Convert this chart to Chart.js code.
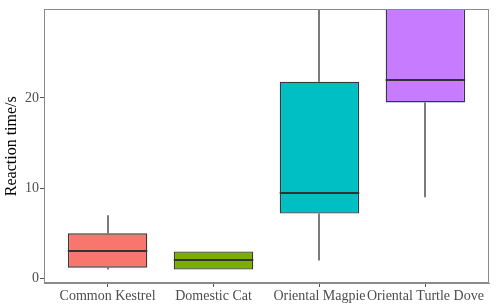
<!DOCTYPE html>
<html>
<head>
<meta charset="utf-8">
<script src="https://cdn.jsdelivr.net/npm/chart.js@4/dist/chart.umd.min.js"></script>
<style>
  html, body { margin: 0; padding: 0; background: #fff; }
  #wrap { width: 500px; height: 305px; }
</style>
</head>
<body>
<div id="wrap"><canvas id="myChart" width="500" height="305"></canvas></div>
<script>
var categories = ['Common Kestrel', 'Domestic Cat', 'Oriental Magpie', 'Oriental Turtle Dove'];
var mins    = [1.0, 1.0, 2.0, 9.0];
var q1s     = [1.2, 1.0, 7.2, 19.5];
var medians = [3.0, 2.0, 9.5, 22.0];
var q3s     = [5.0, 3.0, 21.8, 32.0];
var maxs    = [7.0, 3.0, 35.0, 40.0];
var colors  = ['#F8766D', '#7CAE00', '#00BFC4', '#C77CFF'];
var yTicks  = [0, 10, 20];

var serif = "'Liberation Serif', 'Times New Roman', serif";

var boxData = categories.map(function (c, i) {
    return { x: i + 1, y: [q1s[i], q3s[i]] };
});

// whiskers under boxes, medians over them, panel border on top
var boxPlot = {
    id: 'boxPlot',
    beforeDatasetsDraw: function (chart) {
        var ctx = chart.ctx, area = chart.chartArea, ys = chart.scales.y;
        var meta = chart.getDatasetMeta(0);
        ctx.save();
        ctx.beginPath();
        ctx.rect(area.left, area.top, area.right - area.left, area.bottom - area.top);
        ctx.clip();
        ctx.strokeStyle = '#7a7a7a';
        ctx.lineWidth = 2;
        meta.data.forEach(function (bar, i) {
            var x = Math.round(bar.x);
            ctx.beginPath();
            ctx.moveTo(x, ys.getPixelForValue(q3s[i]));
            ctx.lineTo(x, ys.getPixelForValue(maxs[i]));
            ctx.moveTo(x, ys.getPixelForValue(q1s[i]));
            ctx.lineTo(x, ys.getPixelForValue(mins[i]));
            ctx.stroke();
        });
        ctx.restore();
    },
    afterDatasetsDraw: function (chart) {
        var ctx = chart.ctx, area = chart.chartArea, ys = chart.scales.y;
        var meta = chart.getDatasetMeta(0);
        ctx.save();
        ctx.beginPath();
        ctx.rect(area.left, area.top, area.right - area.left, area.bottom - area.top);
        ctx.clip();
        ctx.strokeStyle = '#333333';
        ctx.lineWidth = 2;
        meta.data.forEach(function (bar, i) {
            var y = Math.round(ys.getPixelForValue(medians[i]));
            ctx.beginPath();
            ctx.moveTo(bar.x - bar.width / 2, y);
            ctx.lineTo(bar.x + bar.width / 2, y);
            ctx.stroke();
        });
        ctx.restore();
        ctx.save();
        ctx.strokeStyle = '#8a8a8a';
        ctx.lineWidth = 1;
        ctx.strokeRect(Math.round(area.left) + 0.5, Math.round(area.top) + 0.5,
            Math.round(area.right - area.left) - 1, Math.round(area.bottom - area.top) - 1);
        ctx.restore();
    }
};

var myChart = new Chart(document.getElementById('myChart'), {
    type: 'bar',
    data: {
        datasets: [{
            data: boxData,
            backgroundColor: colors,
            borderColor: '#383838',
            borderWidth: 1.3,
            borderSkipped: false,
            barPercentage: 0.75,
            categoryPercentage: 1
        }]
    },
    options: {
        responsive: false,
        animation: false,
        devicePixelRatio: 1,
        layout: { padding: { left: 0, right: 11, top: 2, bottom: 0 } },
        plugins: { legend: { display: false }, tooltip: { enabled: false } },
        scales: {
            x: {
                type: 'linear',
                offset: false,
                min: 0.4,
                max: 4.6,
                afterBuildTicks: function (scale) {
                    scale.ticks = categories.map(function (c, i) { return { value: i + 1 }; });
                },
                afterFit: function (scale) { scale.height = 22; },
                grid: { offset: false, drawOnChartArea: false, drawTicks: true, tickLength: 4, color: '#555555' },
                border: { display: true, color: '#8a8a8a' },
                ticks: {
                    autoSkip: false,
                    maxRotation: 0,
                    padding: 1,
                    color: '#4d4d4d',
                    font: { family: serif, size: 14 },
                    callback: function (v) { return categories[v - 1]; }
                }
            },
            y: {
                min: -0.5,
                max: 29.8,
                afterBuildTicks: function (scale) {
                    scale.ticks = yTicks.map(function (v) { return { value: v }; });
                },
                afterFit: function (scale) { scale.width = 44; },
                grid: { drawOnChartArea: false, drawTicks: true, tickLength: 4, color: '#555555' },
                border: { display: true, color: '#8a8a8a' },
                ticks: {
                    padding: 1,
                    color: '#4d4d4d',
                    font: { family: serif, size: 14 }
                },
                title: {
                    display: true,
                    text: 'Reaction time/s',
                    color: '#000000',
                    padding: { top: 2, bottom: 0 },
                    font: { family: serif, size: 16 }
                }
            }
        }
    },
    plugins: [boxPlot]
});
</script>
</body>
</html>
